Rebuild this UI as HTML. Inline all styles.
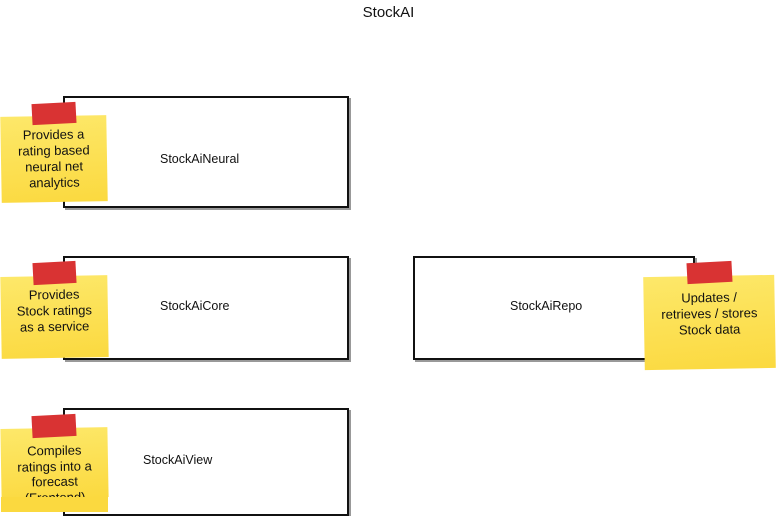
<!DOCTYPE html>
<html><head><style>
body{margin:0;width:777px;height:516px;background:#fff;position:relative;overflow:hidden;font-family:"Liberation Sans",sans-serif;color:#111}
.t{position:absolute;left:0;width:777px;top:4px;text-align:center;font-size:15px}
.box{position:absolute;border:2px solid #111;background:#fff;box-shadow:2px 2px 0 #999}
.lbl{position:absolute;font-size:12.5px;white-space:nowrap}
.note{position:absolute;background:#fde050;background:linear-gradient(175deg,#fde86a,#fbd93f);font-size:13px;line-height:16px;text-align:center;overflow:hidden;box-sizing:border-box;transform:rotate(-1deg)}
.tape{position:absolute;background:#d93333;transform:rotate(-3deg)}
</style></head><body>
<div class="t">StockAI</div>

<div class="box" style="left:63px;top:96px;width:282px;height:108px"></div>
<div class="lbl" style="left:160px;top:152px">StockAiNeural</div>
<div class="note" style="left:1px;top:116px;width:106px;height:86px;padding-top:11px">Provides a<br>rating based<br>neural net<br>analytics</div>
<div class="tape" style="left:32px;top:103px;width:44px;height:21px"></div>

<div class="box" style="left:63px;top:256px;width:282px;height:100px"></div>
<div class="lbl" style="left:160px;top:299px">StockAiCore</div>
<div class="note" style="left:1px;top:276px;width:107px;height:82px;padding-top:11px">Provides<br>Stock ratings<br>as a service</div>
<div class="tape" style="left:33px;top:262px;width:43px;height:22px"></div>

<div class="box" style="left:413px;top:256px;width:278px;height:100px"></div>
<div class="lbl" style="left:510px;top:299px">StockAiRepo</div>
<div class="note" style="left:644px;top:276px;width:131px;height:93px;padding-top:14px">Updates /<br>retrieves / stores<br>Stock data</div>
<div class="tape" style="left:687px;top:262px;width:45px;height:21px"></div>

<div class="box" style="left:63px;top:408px;width:282px;height:104px"></div>
<div class="lbl" style="left:143px;top:453px">StockAiView</div>
<div class="note" style="left:1px;top:428px;width:107px;height:70px;padding-top:15px;line-height:15.5px">Compiles<br>ratings into a<br>forecast<br>(Frontend)</div>
<div class="note" style="left:1px;top:497px;width:107px;height:15px;transform:none;background:#fbd93f"></div>
<div class="tape" style="left:32px;top:415px;width:44px;height:22px"></div>
</body></html>
